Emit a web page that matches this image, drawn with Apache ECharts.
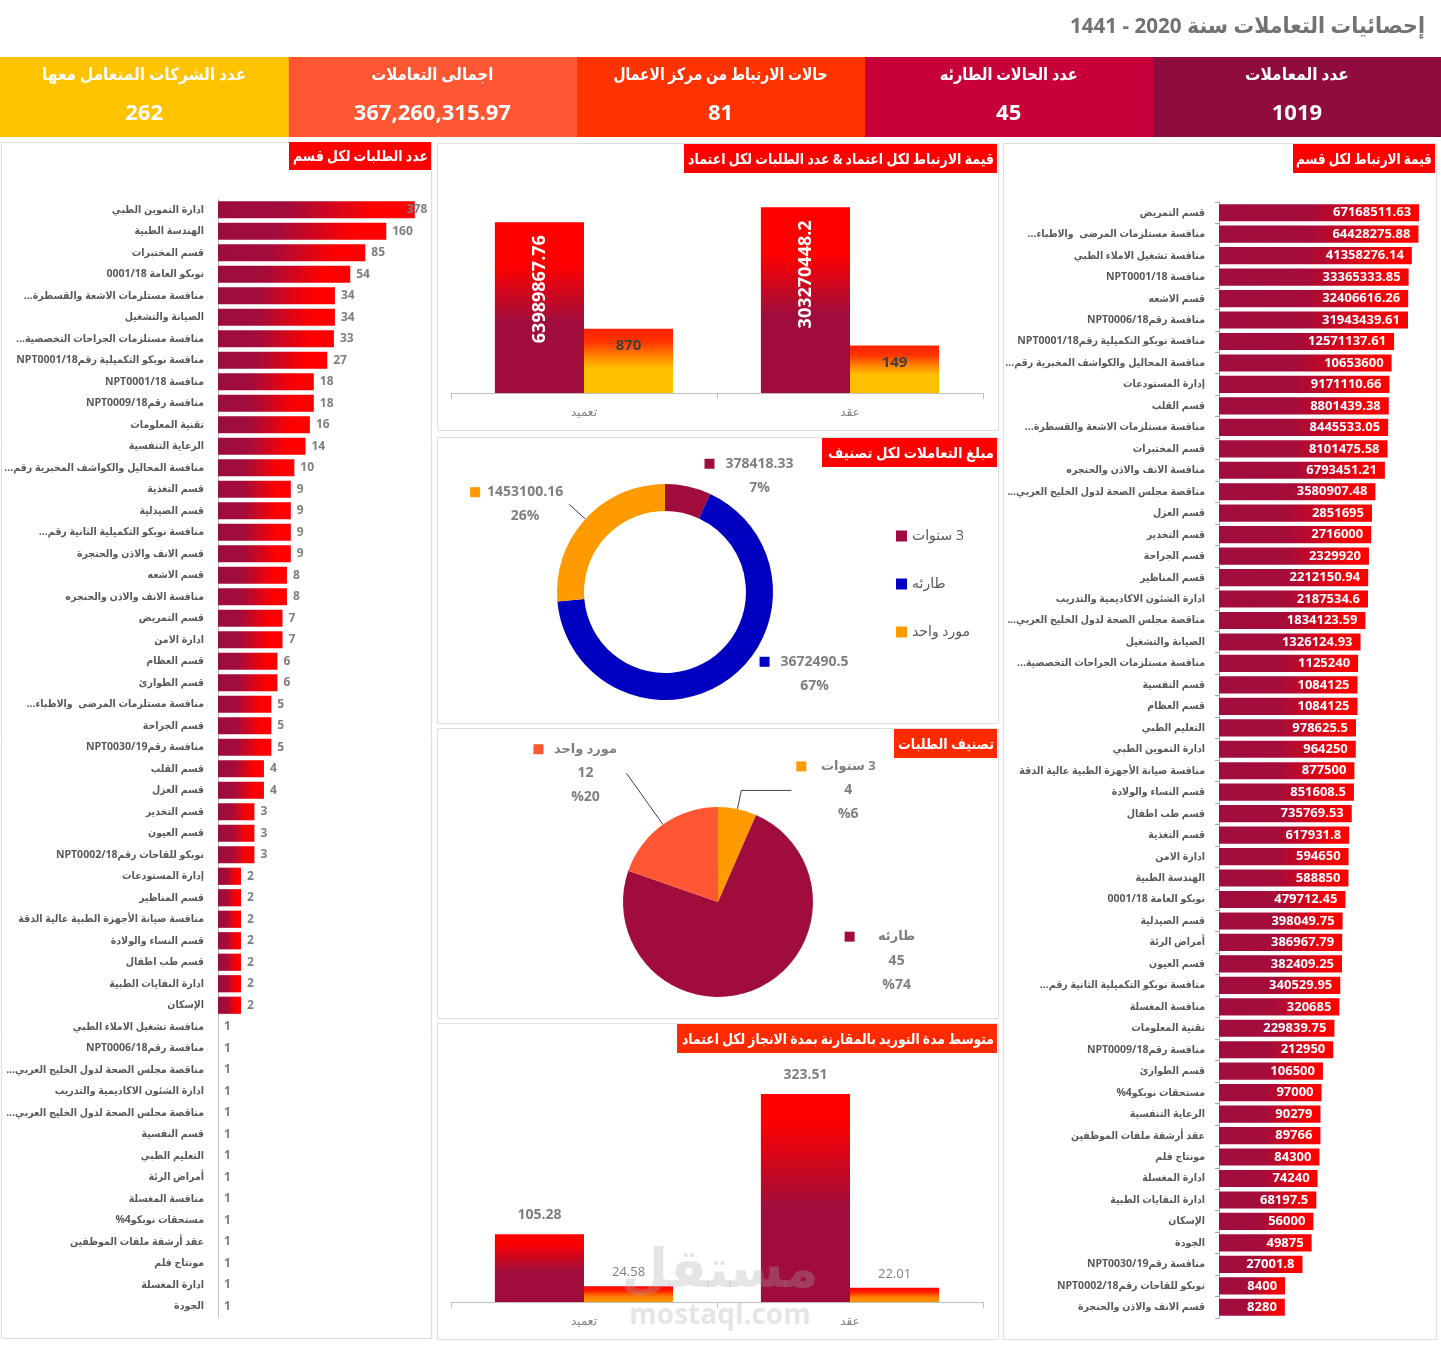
<!DOCTYPE html>
<html dir="rtl">
<head>
<meta charset="utf-8">
<script src="https://cdn.jsdelivr.net/npm/echarts@6/dist/echarts.min.js"></script>
<style>
html,body{margin:0;padding:0;background:#fff;overflow:hidden}
#c{width:1441px;height:1358px;direction:rtl}
</style>
</head>
<body>
<div id="c"></div>
<script>
// ---------------- DATA ----------------
const pageTitle = 'إحصائيات التعاملات سنة 2020 - 1441';
const kpiLabels = ['عدد المعاملات','عدد الحالات الطارئه','حالات الارتباط من مركز الاعمال','اجمالى التعاملات','عدد الشركات المتعامل معها'];
const kpiValues = ['1019','45','81','367,260,315.97','262'];

const panelTitles = ['عدد الطلبات لكل قسم','قيمة الارتباط لكل اعتماد & عدد الطلبات لكل اعتماد','مبلغ التعاملات لكل تصنيف','تصنيف الطلبات','متوسط مدة التوريد بالمقارنة بمدة الانجاز لكل اعتماد','قيمة الارتباط لكل قسم'];

const reqDepts = ['ادارة التموين الطبي','الهندسة الطبية','قسم المختبرات','نوبكو العامة 0001/18','منافسة مستلزمات الاشعة والقسطرة...','الصيانة والتشغيل','منافسة مستلزمات الجراحات التخصصية...','منافسة نوبكو التكميلية رقمNPT0001/18','منافسة NPT0001/18','منافسة رقمNPT0009/18','تقنية المعلومات','الرعاية التنفسية','منافسة المحاليل والكواشف المخبرية رقم...','قسم التغذية','قسم الصيدلية','منافسة نوبكو التكميلية الثانية رقم...','قسم الانف والاذن والحنجرة','قسم الاشعه','منافسة الانف والاذن والحنجره','قسم التمريض','ادارة الامن','قسم العظام','قسم الطوارئ','منافسة مستلزمات المرضى  والاطباء...','قسم الجراحة','منافسة رقمNPT0030/19','قسم القلب','قسم العزل','قسم التخدير','قسم العيون','نوبكو للقاحات رقمNPT0002/18','إدارة المستودعات','قسم المناظير','منافسة صيانة الأجهزة الطبية عالية الدقة','قسم النساء والولادة','قسم طب اطفال','ادارة النفايات الطبية','الإسكان','منافسة تشغيل الاملاء الطبي','منافسة رقمNPT0006/18','مناقصة مجلس الصحة لدول الخليج العربي...','ادارة الشئون الاكاديمية والتدريب','مناقصة مجلس الصحة لدول الخليج العربي...','قسم النفسية','التعليم الطبي','أمراض الرئة','منافسة المغسلة','مستحقات نوبكو4%','عقد أرشفة ملفات الموظفين','مونتاج فلم','ادارة المغسلة','الجودة'];
const reqCounts = [378,160,85,54,34,34,33,27,18,18,16,14,10,9,9,9,9,8,8,7,7,6,6,5,5,5,4,4,3,3,3,2,2,2,2,2,2,2,1,1,1,1,1,1,1,1,1,1,1,1,1,1];

const valDepts = ['قسم التمريض','منافسة مستلزمات المرضى  والاطباء...','منافسة تشغيل الاملاء الطبي','منافسة NPT0001/18','قسم الاشعه','منافسة رقمNPT0006/18','منافسة نوبكو التكميلية رقمNPT0001/18','منافسة المحاليل والكواشف المخبرية رقم...','إدارة المستودعات','قسم القلب','منافسة مستلزمات الاشعة والقسطرة...','قسم المختبرات','منافسة الانف والاذن والحنجره','مناقصة مجلس الصحة لدول الخليج العربي...','قسم العزل','قسم التخدير','قسم الجراحة','قسم المناظير','ادارة الشئون الاكاديمية والتدريب','مناقصة مجلس الصحة لدول الخليج العربي...','الصيانة والتشغيل','منافسة مستلزمات الجراحات التخصصية...','قسم النفسية','قسم العظام','التعليم الطبي','ادارة التموين الطبي','منافسة صيانة الأجهزة الطبية عالية الدقة','قسم النساء والولادة','قسم طب اطفال','قسم التغذية','ادارة الامن','الهندسة الطبية','نوبكو العامة 0001/18','قسم الصيدلية','أمراض الرئة','قسم العيون','منافسة نوبكو التكميلية الثانية رقم...','منافسة المغسلة','تقنية المعلومات','منافسة رقمNPT0009/18','قسم الطوارئ','مستحقات نوبكو4%','الرعاية التنفسية','عقد أرشفة ملفات الموظفين','مونتاج فلم','ادارة المغسلة','ادارة النفايات الطبية','الإسكان','الجودة','منافسة رقمNPT0030/19','نوبكو للقاحات رقمNPT0002/18','قسم الانف والاذن والحنجرة'];
const valAmounts = [67168511.63,64428275.88,41358276.14,33365333.85,32406616.26,31943439.61,12571137.61,10653600,9171110.66,8801439.38,8445533.05,8101475.58,6793451.21,3580907.48,2851695,2716000,2329920,2212150.94,2187534.6,1834123.59,1326124.93,1125240,1084125,1084125,978625.5,964250,877500,851608.5,735769.53,617931.8,594650,588850,479712.45,398049.75,386967.79,382409.25,340529.95,320685,229839.75,212950,106500,97000,90279,89766,84300,74240,68197.5,56000,49875,27001.8,8400,8280];

const approvalTypes = ['تعميد','عقد'];
const commitValues = [63989867.76, 303270448.2];
const requestCounts = [870, 149];

const classNames = ['3 سنوات','طارئه','مورد واحد'];
const classAmounts = [378418.33, 3672490.5, 1453100.16];
const classRequests = [4, 45, 12];

const supplyDays = [105.28, 323.51];
const completionDays = [24.58, 22.01];

const watermark = ['مستقل','mostaql.com'];

// ---------------- STYLE ----------------
const FF = "'Open Sans','DejaVu Sans',sans-serif";
const FC = "'Open Sans','DejaVu Sans Condensed','DejaVu Sans',sans-serif";
const MAROON = '#A00D3C';
const kpiColors = ['#900C3F','#C70039','#FF3300','#FF5733','#FFC300'];
const donutColors = ['#A00D3C','#0000C0','#FF9A00'];
const pieColors = ['#FF9A00','#A00D3C','#FF5733'];
// label-line geometry per slice (length, length2, line visible)
const donutLines = [[11,9,false],[-8,32,false],[22,0,true]];
const pieLines = [[19,50,true],[-31,96,false],[63,0,true]];
const G = echarts.graphic.LinearGradient;
const hGradLeft = new G(0,0,1,0,[{offset:0,color:'#9B0D3E'},{offset:0.35,color:'#A30C3B'},{offset:0.8,color:'#FF0000'},{offset:1,color:'#FF0000'}]);
const hGradRight = new G(0,0,1,0,[{offset:0,color:'#A00D3C'},{offset:0.45,color:'#A50C3A'},{offset:0.92,color:'#FF0000'},{offset:1,color:'#FF0000'}]);
const vRedMaroon = new G(0,0,0,1,[{offset:0,color:'#FF0000'},{offset:0.25,color:'#FF0000'},{offset:0.58,color:MAROON},{offset:1,color:MAROON}]);
const vRedYellow = new G(0,0,0,1,[{offset:0,color:'#FF2200'},{offset:0.2,color:'#FF3300'},{offset:0.45,color:'#FF8C00'},{offset:0.62,color:'#FFC000'},{offset:1,color:'#FFC000'}]);
const vRedMaroon2 = new G(0,0,0,1,[{offset:0,color:'#FF0000'},{offset:0.12,color:'#FF0000'},{offset:0.55,color:MAROON},{offset:1,color:MAROON}]);
const vRedOrange = new G(0,0,0,1,[{offset:0,color:'#FF0000'},{offset:0.3,color:'#FF2000'},{offset:0.65,color:'#FF8000'},{offset:1,color:'#FF9900'}]);

// text width fitting for the free-standing texts
const mctx = document.createElement('canvas').getContext('2d');
function fitScale(text, font, target){ mctx.font = font; const w = mctx.measureText(text).width; return w > 0 ? target / w : 1; }

// ---------------- GRAPHICS (frames, tiles, titles) ----------------
const graphics = [];
const titleFont = 'bold 22px ' + FF;
graphics.push({type:'text', x:1425, y:27, z:10, scaleX:fitScale(pageTitle, titleFont, 355),
  style:{text:pageTitle, font:titleFont, fill:'#767171', align:'right', verticalAlign:'middle'}});
const tileW = 1441/5;
const kpiLabelW = [104,138,214,122,204];
kpiLabels.forEach((lab,i)=>{
  const x0 = 1441 - (i+1)*tileW;
  const f = 'bold 17px ' + FF;
  graphics.push({type:'rect', shape:{x:x0, y:57, width:tileW+0.5, height:80}, style:{fill:kpiColors[i]}, z:1});
  graphics.push({type:'text', x:x0+tileW/2, y:75, z:10, scaleX:fitScale(lab, f, kpiLabelW[i]),
    style:{text:lab, font:f, fill:'#fff', align:'center', verticalAlign:'middle'}});
  graphics.push({type:'text', x:x0+tileW/2, y:114, z:10, style:{text:kpiValues[i], font:'bold 22px '+FF, fill:'#fff', align:'center', verticalAlign:'middle'}});
});
const panels = [[1,142,430,1196],[437,143,561,287],[437,437,561,286],[437,728,561,290],[437,1023,561,316],[1003,143,433,1196]];
panels.forEach(p=>graphics.push({type:'rect', shape:{x:p[0]+0.5,y:p[1]+0.5,width:p[2],height:p[3]}, style:{fill:'none', stroke:'#dedede', lineWidth:1}, z:0}));
const titleBoxes = [[289,142,142,28,'#FF0000'],[684,144,313,29,'#FF0000'],[822,438,175,29,'#FF0000'],[894,729,103,29,'#FF2A00'],[677,1024,320,29,'#FF2A00'],[1293,144,142,29,'#FF0000']];
const titleW = [135,306,166,96,312,136];
titleBoxes.forEach((b,i)=>{
  const f = 'bold 15px ' + FF;
  graphics.push({type:'rect', shape:{x:b[0],y:b[1],width:b[2],height:b[3]}, style:{fill:b[4]}, z:1});
  graphics.push({type:'text', x:b[0]+b[2]-3, y:b[1]+b[3]/2+1, z:10, scaleX:fitScale(panelTitles[i], f, titleW[i]),
    style:{text:panelTitles[i], font:f, fill:'#fff', align:'right', verticalAlign:'middle'}});
});
graphics.push({type:'text', x:720, y:1272, z:100, style:{text:watermark[0], font:'bold 54px '+FF, fill:'rgba(170,170,170,0.3)', align:'center', verticalAlign:'middle'}});
graphics.push({type:'text', x:720, y:1316, z:100, style:{text:watermark[1], font:'bold 28px '+FF, fill:'rgba(170,170,170,0.3)', align:'center', verticalAlign:'middle'}});

// ---------------- CHART ----------------
const chart = echarts.init(document.getElementById('c'), null, {renderer:'canvas'});
const catLabel = {color:'#595959', fontWeight:'bold', fontSize:10.5, fontFamily:FC, interval:0};
const midCatAxis = (gi)=>({type:'category', gridIndex:gi, data:approvalTypes,
  axisLine:{lineStyle:{color:'#bfbfbf'}}, axisTick:{show:true, length:6, lineStyle:{color:'#bfbfbf'}},
  axisLabel:{color:'#7f7f7f', fontSize:12, fontFamily:FF, margin:14}});

const txt = (size)=>({color:'#7f7f7f', fontWeight:'bold', fontSize:size, fontFamily:FF, lineHeight:24});
function richFor(color, nameSize){
  return {
    sq:{width:10, height:10, backgroundColor:color},
    sq0:{width:10, height:10},
    sp:{width:6},
    v:Object.assign({width:78, align:'center'}, txt(14)),
    n:Object.assign({width:72, align:'center'}, txt(nameSize)),
    c:Object.assign({width:78, align:'center'}, txt(14)),
    d:Object.assign({width:72, align:'center'}, txt(14))
  };
}
const lineFor = (l)=>({show:true, length:l[0], length2:l[1], lineStyle:{color:'#404040', width:1, opacity:l[2]?1:0}});
// the longest bar's label is pulled back over the bar end, as in the original
const reqBarData = reqCounts.map((v,i)=> i===0 ? {value:v, label:{offset:[-14,0]}} : v);

const option = {
  backgroundColor:'#fff',
  animation:false,
  textStyle:{fontFamily:FF},
  graphic: graphics,
  legend:[{
    data:classNames, orient:'vertical', left:891, top:524, itemWidth:11, itemHeight:11, itemGap:34,
    icon:'rect', selectedMode:false,
    textStyle:{color:'#595959', fontSize:14, fontFamily:FF}
  }],
  grid:[
    {left:218, top:199, width:229, height:1118, outerBoundsMode:'none'},
    {left:1219, top:202, width:206, height:1116, outerBoundsMode:'none'},
    {left:451, top:196, width:532, height:197, outerBoundsMode:'none'},
    {left:451, top:1077, width:532, height:225, outerBoundsMode:'none'}
  ],
  xAxis:[
    {type:'log', gridIndex:0, min:1, max:1000, logBase:10, show:false},
    {type:'log', gridIndex:1, min:100, max:100000000, startValue:100, logBase:10, show:false},
    midCatAxis(2),
    midCatAxis(3)
  ],
  yAxis:[
    {type:'category', gridIndex:0, data:reqDepts, inverse:true,
      axisLine:{lineStyle:{color:'#bfbfbf'}}, axisTick:{show:false},
      axisLabel:Object.assign({margin:14}, catLabel)},
    {type:'category', gridIndex:1, data:valDepts, inverse:true,
      axisLine:{lineStyle:{color:'#a6a6a6'}}, axisTick:{show:true, length:4, lineStyle:{color:'#a6a6a6'}},
      axisLabel:Object.assign({margin:14}, catLabel)},
    {type:'log', gridIndex:2, min:1, max:1000000000, logBase:10, show:false},
    {type:'value', gridIndex:3, min:0, max:350, show:false}
  ],
  series:[
    {type:'bar', xAxisIndex:0, yAxisIndex:0, data:reqBarData, barCategoryGap:'20%',
      itemStyle:{color:hGradLeft},
      label:{show:true, position:'right', distance:6, color:'#7f7f7f', fontWeight:'bold', fontSize:12, fontFamily:FF}},
    {type:'bar', xAxisIndex:1, yAxisIndex:1, data:valAmounts, barCategoryGap:'20%', clip:true,
      itemStyle:{color:hGradRight},
      label:{show:true, position:'insideRight', distance:8, color:'#fff', fontWeight:'bold', fontSize:13, fontFamily:FF,
        formatter:p=>String(p.value)}},
    {type:'bar', xAxisIndex:2, yAxisIndex:2, data:commitValues, barGap:'0%', barCategoryGap:'33%',
      itemStyle:{color:vRedMaroon},
      label:{show:true, position:'insideTop', distance:13, rotate:90, align:'right', verticalAlign:'middle',
        color:'#fff', fontWeight:'bold', fontSize:18, fontFamily:FF, formatter:p=>String(p.value)}},
    {type:'bar', xAxisIndex:2, yAxisIndex:2, data:requestCounts, barGap:'0%', barCategoryGap:'33%',
      itemStyle:{color:vRedYellow},
      label:{show:true, position:'insideTop', distance:10, color:'#404040', fontWeight:'bold', fontSize:15, fontFamily:FF,
        formatter:p=>String(p.value)}},
    {type:'bar', xAxisIndex:3, yAxisIndex:3, data:supplyDays, barGap:'0%', barCategoryGap:'33%',
      itemStyle:{color:vRedMaroon2},
      label:{show:true, position:'top', distance:12, color:'#7f7f7f', fontWeight:'bold', fontSize:14, fontFamily:FF,
        formatter:p=>String(p.value)}},
    {type:'bar', xAxisIndex:3, yAxisIndex:3, data:completionDays, barGap:'0%', barCategoryGap:'33%',
      itemStyle:{color:vRedOrange},
      label:{show:true, position:'top', distance:7, color:'#7f7f7f', fontSize:13, fontFamily:FF,
        formatter:p=>String(p.value)}},
    {type:'pie', radius:[81,108], center:[665,592], startAngle:90, clockwise:true, percentPrecision:0,
      itemStyle:{borderWidth:0},
      data:classNames.map((n,i)=>({name:n, value:classAmounts[i], itemStyle:{color:donutColors[i], borderWidth:0},
        label:{rich:richFor(donutColors[i],12)}, labelLine:lineFor(donutLines[i])})),
      label:{show:true, position:'outside',
        formatter:p=>'{sq|}{sp|}{v|'+p.value+'}\n{sq0|}{sp|}{c|'+p.percent+'%}'}},
    {type:'pie', radius:95, center:[718,902], startAngle:90, clockwise:true, percentPrecision:0,
      itemStyle:{borderWidth:0},
      data:classNames.map((n,i)=>({name:n, value:classRequests[i], itemStyle:{color:pieColors[i], borderWidth:0},
        label:{rich:richFor(pieColors[i],13)}, labelLine:lineFor(pieLines[i])})),
      label:{show:true, position:'outside',
        formatter:p=>'{sq|}{sp|}{n|'+p.name+'}\n{sq0|}{sp|}{d|'+p.value+'}\n{sq0|}{sp|}{d|%'+p.percent+'}'}}
  ]
};
chart.setOption(option);
</script>
</body>
</html>
